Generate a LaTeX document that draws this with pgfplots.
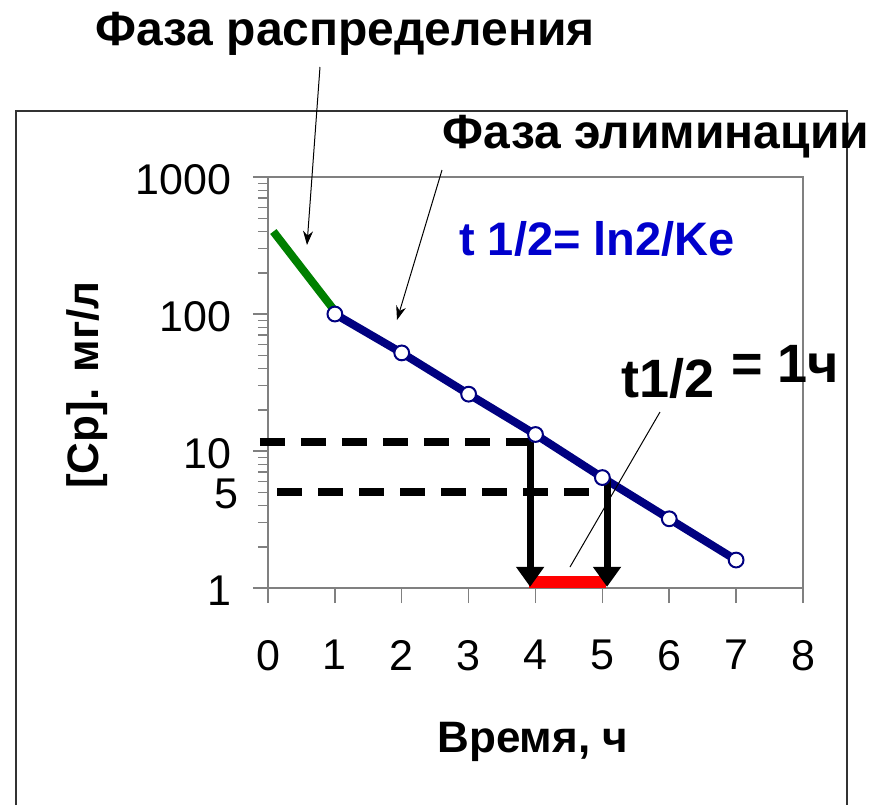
\documentclass[border=0pt]{standalone}
\usepackage{fontspec}
\setmainfont{Liberation Sans}
\usepackage{pgfplots}
\pgfplotsset{compat=1.18}
\usetikzlibrary{arrows.meta}
\definecolor{navy}{RGB}{0,0,128}
\definecolor{dgreen}{RGB}{0,128,0}
\definecolor{tblue}{RGB}{0,0,204}
\definecolor{axgray}{RGB}{128,128,128}
\begin{document}
\begin{tikzpicture}[x=0.5pt,y=0.5pt]
\useasboundingbox (-268,-217) rectangle (615,588);
\draw[black!80, line width=0.75pt] (-252,-217) -- (-252,477) -- (579,477) -- (579,-217);
\begin{axis}[at={(0,0)}, anchor=south west, scale only axis,
  width=267.5pt, height=205.5pt,
  ymode=log, xmin=0, xmax=8, ymin=1, ymax=1000, clip=false,
  axis line style={axgray, line width=1pt},
  xtick={0,1,2,3,4,5,6,7,8},
  ytick={1,10,100,1000}, yticklabels={1,10,100,1000},
  minor ytick={2,3,4,5,6,7,8,9,20,30,40,50,60,70,80,90,200,300,400,500,600,700,800,900},
  xtick pos=bottom, ytick pos=left, tick align=outside,
  major tick length=7.5pt, minor tick length=5pt,
  every tick/.style={axgray, line width=0.75pt},
  /pgf/number format/assume math mode=true,
  tick label style={font=\fontsize{21.5}{21.5}\selectfont},
  xticklabel style={yshift=-15pt},
  yticklabel style={inner sep=0pt, xshift=-10.5pt, yshift=-1.5pt},
  xlabel={Время, ч}, ylabel={[Ср]. мг/л},
  label style={font=\fontsize{22}{22}\selectfont\bfseries},
  xlabel style={at={(axis description cs:0.495,-0.399)}, anchor=base},
  ylabel style={at={(axis description cs:-0.338,0.494)}, anchor=center},
]
\addplot[dgreen, line width=4pt] coordinates {(0.08,400) (1,105)};
\addplot[black, line width=4pt, dash pattern=on 12.5pt off 8pt] coordinates {(-0.12,11.6) (3.95,11.6)};
\addplot[black, line width=4pt, dash pattern=on 12.5pt off 8pt] coordinates {(0.14,5) (5.0,5)};
\addplot[navy, line width=4pt, mark=*, mark size=3.7pt, mark options={fill=white, draw=navy, line width=1pt}]
  coordinates {(1,100) (2,52) (3,26) (4,13.2) (5,6.4) (6,3.2) (7,1.6)};
\addplot[red, line width=6pt] coordinates {(3.9,1.106) (5.05,1.106)};
\addplot[black, line width=3.5pt, -{Triangle[width=13.5pt,length=10pt]}] coordinates {(3.92,11.6) (3.92,1.02)};
\addplot[black, line width=3.5pt, -{Triangle[width=13.5pt,length=10pt]}] coordinates {(5.07,6.4) (5.07,1.02)};
\end{axis}
\node[font=\fontsize{21.5}{21.5}\selectfont, anchor=east, inner sep=0] at (-29,94) {5};
\node[font=\fontsize{24}{24}\selectfont\bfseries, anchor=base] at (77,543) {Фаза распределения};
\node[font=\fontsize{24}{24}\selectfont\bfseries, anchor=base] at (388,440) {Фаза элиминации};
\node[font=\fontsize{23.5}{23.5}\selectfont\bfseries, text=tblue, anchor=base] at (329,333) {t 1/2= ln2/Ke};
\node[font=\fontsize{27}{27}\selectfont\bfseries, anchor=base] at (400,191) {t1/2};
\node[font=\fontsize{27}{27}\selectfont\bfseries, anchor=base] at (517,206) {= 1ч};
\draw[black, line width=0.5pt, -{Stealth[width=5pt,length=7pt]}] (52,521) -- (39,343);
\draw[black, line width=0.5pt, -{Stealth[width=5pt,length=7pt]}] (174,418) -- (129,268);
\draw[black, line width=0.5pt] (392,176) -- (302,21);
\end{tikzpicture}
\end{document}
